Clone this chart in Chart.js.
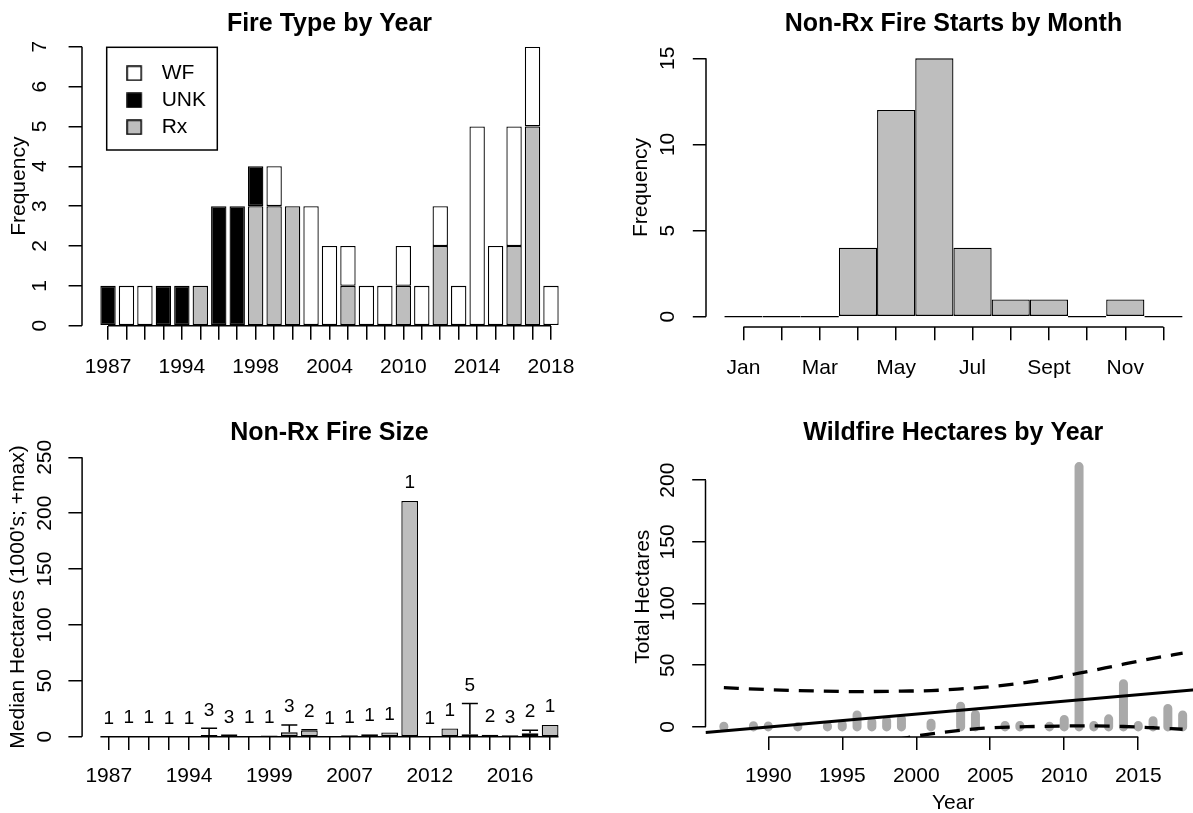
<!DOCTYPE html>
<html>
<head>
<meta charset="utf-8">
<script src="https://cdn.jsdelivr.net/npm/chart.js@4.4.1/dist/chart.umd.min.js"></script>
<style>
  html, body { margin: 0; padding: 0; background: #fff; }
  #page { position: relative; width: 1193px; height: 813px; overflow: hidden; }
  #page canvas { position: absolute; }
</style>
</head>
<body>
<div id="page">
  <canvas id="fireType" width="597" height="406" style="left:0;top:0"></canvas>
  <canvas id="fireMonth" width="610" height="406" style="left:600px;top:0"></canvas>
  <canvas id="fireSize" width="597" height="407" style="left:0;top:406px"></canvas>
  <canvas id="fireHa" width="610" height="420" style="left:600px;top:406px"></canvas>
</div>
<script>
// years with any fire (top left and bottom right panels)
var fireYears = [1987, 1989, 1990, 1992, 1994, 1995, 1996, 1997, 1998, 1999, 2001, 2003, 2004,
                 2006, 2007, 2009, 2010, 2011, 2012, 2013, 2014, 2015, 2016, 2017, 2018];
var rxCount  = [0, 0, 0, 0, 0, 1, 0, 0, 3, 3, 3, 0, 0, 1, 0, 0, 1, 0, 2, 0, 0, 0, 2, 5, 0];
var unkCount = [1, 0, 0, 1, 1, 0, 3, 3, 1, 0, 0, 0, 0, 0, 0, 0, 0, 0, 0, 0, 0, 0, 0, 0, 0];
var wfCount  = [0, 1, 1, 0, 0, 0, 0, 0, 0, 1, 0, 3, 2, 1, 1, 1, 1, 1, 1, 1, 5, 2, 3, 2, 1];

// non-Rx starts per month
var monthLabels = ['Jan', 'Feb', 'Mar', 'Apr', 'May', 'Jun', 'Jul', 'Aug', 'Sept', 'Oct', 'Nov', 'Dec'];
var monthStarts = [0, 0, 0, 4, 12, 15, 4, 1, 1, 0, 1, 0];

// non-Rx fire size (1000's ha): median, max and number of fires
var sizeYears  = [1987, 1989, 1990, 1992, 1994, 1996, 1997, 1998, 1999, 2003, 2004, 2006,
                  2007, 2009, 2010, 2011, 2012, 2013, 2014, 2015, 2016, 2017, 2018];
var sizeMedian = [0.3, 0.6, 0.6, 0.2, 0.2, 1.5, 0.6, 0.5, 1.0, 3.9, 5.5, 0.2,
                  1.2, 2.2, 3.8, 211, 0.3, 7.3, 2.1, 1.8, 1.2, 3.0, 10.5];
var sizeMax    = [null, null, null, null, null, 7.5, 1.2, null, null, 10.5, 6.3, null,
                  null, null, null, null, null, null, 29.8, null, null, 5.8, null];
var sizeCount  = [1, 1, 1, 1, 1, 3, 3, 1, 1, 3, 2, 1, 1, 1, 1, 1, 1, 1, 5, 2, 3, 2, 1];

// wildfire hectares per year, linear fit and its band
var haTotal = [0.5, 1, 0.7, 0.3, 0.8, 2, 9.6, 4, 5, 6.5, 3, 16.8, 10.1,
               1.2, 1.2, 0.6, 6, 211, 1.2, 6.5, 35, 1.2, 5, 15, 9.6];
var fitYears = [1985.76, 2019.24];
var fitHa    = [-4.5, 30.6];
var bandYears = [1987, 1990, 1993, 1996, 1999, 2001, 2003, 2005, 2008, 2011, 2014, 2016, 2018];
var bandUpper = [31.8, 30.2, 29.2, 28.6, 29.0, 29.4, 30.8, 32.6, 37.0, 43.5, 50.8, 55.5, 59.7];
var bandLower = [-38, -30, -23, -16, -9.5, -5.6, -2.8, -0.8, 0.3, 0.8, 0.3, -0.7, -1.9];

var INK = '#000';
var GRAY = '#bebebe';

Chart.defaults.font.family = '"Liberation Sans", Arial, Helvetica, sans-serif';
Chart.defaults.font.size = 21;
Chart.defaults.color = INK;

function setTicks(vals) {
  return function (s) { s.ticks = vals.map(function (v) { return {value: v}; }); };
}
function fixSize(n) {
  return function (s) {
    if (s.isHorizontal()) s.height = n; else s.width = n;
    s.paddingLeft = s.paddingRight = s.paddingTop = s.paddingBottom = 0;
  };
}
function xAxis(o) {
  return {
    type: 'linear', bounds: 'data', offset: false, min: o.min, max: o.max,
    border: {display: false},
    grid: {offset: false, drawOnChartArea: false, tickLength: o.tick, color: INK, lineWidth: 1.5},
    ticks: {autoSkip: false, maxRotation: 0, minRotation: 0, padding: o.pad, callback: o.label},
    afterBuildTicks: setTicks(o.ticks),
    afterFit: fixSize(o.size),
    title: o.title || {display: false}
  };
}
function yAxis(o) {
  return {
    type: 'linear', bounds: 'data', min: o.min, max: o.max,
    border: {display: false},
    grid: {drawOnChartArea: false, tickLength: o.tick, color: INK, lineWidth: 1.5},
    ticks: {minRotation: 90, maxRotation: 90, crossAlign: 'center', padding: o.pad,
            callback: function (v) { return String(v); }},
    afterBuildTicks: setTicks(o.ticks),
    afterFit: fixSize(o.size),
    title: {display: true, text: o.title, padding: {top: o.titlePad, bottom: 0}}
  };
}
function mainTitle(text, top, bottom) {
  return {display: true, text: text, fullSize: false, color: INK,
          font: {size: 25, weight: 'bold'}, padding: {top: top, bottom: bottom}};
}

// R style axis line: only from first to last tick
var rAxisLine = {
  id: 'rAxisLine',
  afterDraw: function (chart, args, opts) {
    var ctx = chart.ctx, a = chart.chartArea;
    ctx.save();
    ctx.strokeStyle = INK;
    ctx.lineWidth = 1.5;
    ['x', 'y'].forEach(function (id) {
      var s = chart.scales[id], t = s.ticks, pad = opts[id + 'Pad'] || 0;
      var p0 = s.getPixelForValue(t[0].value - pad);
      var p1 = s.getPixelForValue(t[t.length - 1].value + pad);
      ctx.beginPath();
      if (id === 'x') { ctx.moveTo(p0, a.bottom); ctx.lineTo(p1, a.bottom); }
      else { ctx.moveTo(a.left, p0); ctx.lineTo(a.left, p1); }
      ctx.stroke();
    });
    ctx.restore();
  }
};

// legend sits inside the plot with a box round it
var legendFrame = {
  id: 'legendFrame',
  afterLayout: function (chart) {
    var lg = chart.legend, a = chart.chartArea;
    lg.left = a.left + 38.2;
    lg.top = a.top + 10.1;
    lg.right = lg.left + lg.width;
    lg.bottom = lg.top + lg.height;
  },
  afterDraw: function (chart) {
    var lg = chart.legend, ctx = chart.ctx;
    ctx.save();
    ctx.strokeStyle = INK;
    ctx.lineWidth = 1.5;
    ctx.strokeRect(lg.left - 13.5, lg.top - 9.5, 110.6, 102.7);
    ctx.restore();
  }
};

function swatch(fill) {
  var c = document.createElement('canvas');
  c.width = 25; c.height = 16;
  var g = c.getContext('2d');
  g.fillStyle = fill; g.fillRect(1, 1, 14, 14);
  g.strokeStyle = INK; g.lineWidth = 1.5; g.strokeRect(1, 1, 14, 14);
  return c;
}

// whiskers to the max and the number of fires above each bar
var maxWhiskers = {
  id: 'maxWhiskers',
  afterDatasetsDraw: function (chart) {
    var ctx = chart.ctx, x = chart.scales.x, y = chart.scales.y;
    ctx.save();
    ctx.strokeStyle = INK;
    ctx.lineWidth = 1.5;
    sizeMax.forEach(function (m, i) {
      if (m === null) return;
      var px = x.getPixelForValue(i);
      var y0 = y.getPixelForValue(sizeMedian[i]), y1 = y.getPixelForValue(m);
      ctx.beginPath();
      ctx.moveTo(px, y0); ctx.lineTo(px, y1);
      ctx.moveTo(px - 8, y1); ctx.lineTo(px + 8, y1);
      ctx.stroke();
    });
    ctx.fillStyle = INK;
    ctx.font = '19px "Liberation Sans", Arial, sans-serif';
    ctx.textAlign = 'center';
    ctx.textBaseline = 'middle';
    sizeCount.forEach(function (n, i) {
      var top = Math.max(sizeMedian[i], sizeMax[i] === null ? 0 : sizeMax[i]);
      ctx.fillText(String(n), x.getPixelForValue(i), y.getPixelForValue(top) - 18);
    });
    ctx.restore();
  }
};

function asPoints(arr) { return arr.map(function (v, i) { return {x: i, y: v}; }); }
function everyNth(labels, n) { return function (v, i) { return i % n === 0 ? String(labels[i]) : ''; }; }
function indexTicks(arr) { return arr.map(function (_, i) { return i; }); }

// Fire type by year
new Chart(document.getElementById('fireType'), {
  type: 'bar',
  data: {
    datasets: [
      {label: 'Rx', data: asPoints(rxCount), backgroundColor: GRAY, stack: 'fires'},
      {label: 'UNK', data: asPoints(unkCount), backgroundColor: '#000', stack: 'fires'},
      {label: 'WF', data: asPoints(wfCount), backgroundColor: '#fff', stack: 'fires'}
    ]
  },
  options: {
    responsive: false, animation: false, devicePixelRatio: 1, events: [],
    layout: {padding: {left: 0, right: 20, top: 0, bottom: 20.3}},
    datasets: {bar: {borderColor: INK, borderWidth: 1.3, borderSkipped: false,
                     barPercentage: 1 / 1.2, categoryPercentage: 1}},
    scales: {
      x: xAxis({min: -1.41, max: 25.41, ticks: indexTicks(fireYears), label: everyNth(fireYears, 4),
                tick: 14, pad: 15.2, size: 60}),
      y: yAxis({min: 0, max: 7, ticks: [0, 1, 2, 3, 4, 5, 6, 7], tick: 13.4, pad: 22.8, size: 82,
                title: 'Frequency', titlePad: 6.6})
    },
    plugins: {
      title: mainTitle('Fire Type by Year', 8.7, 8.0),
      tooltip: {enabled: false},
      legend: {
        position: 'chartArea', align: 'start',
        labels: {
          usePointStyle: true, pointStyleWidth: 25, boxHeight: 15, padding: 6,
          font: {size: 21}, color: INK,
          generateLabels: function (chart) {
            return chart.data.datasets.map(function (d, i) {
              return {text: d.label, datasetIndex: i, pointStyle: swatch(d.backgroundColor),
                      lineWidth: 0, fontColor: INK, hidden: false};
            }).reverse();
          }
        }
      },
      rAxisLine: {}
    }
  },
  plugins: [rAxisLine, legendFrame]
});

// Non-Rx fire starts by month
new Chart(document.getElementById('fireMonth'), {
  type: 'bar',
  data: {
    datasets: [{
      data: monthStarts.map(function (v, i) { return {x: i + 1, y: v}; }),
      backgroundColor: GRAY, borderColor: INK, borderWidth: 1.3, borderSkipped: false,
      barPercentage: 1, categoryPercentage: 1, minBarLength: 1.5, inflateAmount: 0
    }]
  },
  options: {
    responsive: false, animation: false, devicePixelRatio: 1, events: [],
    layout: {padding: {left: 0, right: 9.1, top: 0, bottom: 19}},
    scales: {
      x: xAxis({min: 0.02, max: 12.98, ticks: monthLabels.map(function (_, i) { return i + 1; }),
                label: everyNth(monthLabels, 2), tick: 13.3, pad: 15.4, size: 60}),
      y: yAxis({min: -0.6, max: 15.6, ticks: [0, 5, 10, 15], tick: 13.2, pad: 13.0, size: 106,
                title: 'Frequency', titlePad: 29})
    },
    plugins: {
      title: mainTitle('Non-Rx Fire Starts by Month', 8.7, 9.3),
      legend: {display: false}, tooltip: {enabled: false},
      rAxisLine: {}
    }
  },
  plugins: [rAxisLine]
});

// Non-Rx fire size
new Chart(document.getElementById('fireSize'), {
  type: 'bar',
  data: {
    datasets: [{
      data: asPoints(sizeMedian), backgroundColor: GRAY, borderColor: INK, borderWidth: 1.3,
      borderSkipped: false, barPercentage: 1 / 1.2, categoryPercentage: 1
    }]
  },
  options: {
    responsive: false, animation: false, devicePixelRatio: 1, events: [],
    layout: {padding: {left: 0, right: 20.2, top: 0, bottom: 16.3}},
    scales: {
      x: xAxis({min: -1.33, max: 23.33, ticks: indexTicks(sizeYears), label: everyNth(sizeYears, 4),
                tick: 13.3, pad: 13.2, size: 60}),
      y: yAxis({min: 0, max: 250, ticks: [0, 50, 100, 150, 200, 250], tick: 13.7, pad: 5.7, size: 82.1,
                title: "Median Hectares (1000's; +max)", titlePad: 5.9})
    },
    plugins: {
      title: mainTitle('Non-Rx Fire Size', 12.5, 8.8),
      legend: {display: false}, tooltip: {enabled: false},
      rAxisLine: {xPad: 0.5 / 1.2}
    }
  },
  plugins: [rAxisLine, maxWhiskers]
});

// Wildfire hectares by year
var haSegments = [];
fireYears.forEach(function (yr, i) {
  haSegments.push({x: yr, y: 0}, {x: yr, y: haTotal[i]}, {x: yr, y: null});
});
function xy(xs, ys) { return xs.map(function (v, i) { return {x: v, y: ys[i]}; }); }

new Chart(document.getElementById('fireHa'), {
  type: 'line',
  data: {
    datasets: [
      {data: haSegments, borderColor: '#a9a9a9', borderWidth: 9, borderCapStyle: 'round',
       borderJoinStyle: 'round', spanGaps: false, order: 2},
      {data: xy(fitYears, fitHa), borderColor: INK, borderWidth: 3, order: 1},
      {data: xy(bandYears, bandUpper), borderColor: INK, borderWidth: 3.3, borderDash: [15, 10],
       cubicInterpolationMode: 'monotone', order: 1},
      {data: xy(bandYears, bandLower), borderColor: INK, borderWidth: 3.3, borderDash: [15, 10],
       cubicInterpolationMode: 'monotone', order: 1}
    ]
  },
  options: {
    responsive: false, animation: false, devicePixelRatio: 1, events: [],
    elements: {point: {radius: 0}},
    layout: {padding: {left: 0, right: 9, top: 0, bottom: 0}},
    scales: {
      x: xAxis({min: 1985.76, max: 2019.24, ticks: [1990, 1995, 2000, 2005, 2010, 2015],
                label: function (v) { return String(v); }, tick: 13, pad: 14.1, size: 89,
                title: {display: true, text: 'Year', padding: {top: 0, bottom: 10.1}}}),
      y: yAxis({min: -8.2, max: 219.2, ticks: [0, 50, 100, 150, 200], tick: 13.3, pad: 6.7, size: 105.5,
                title: 'Total Hectares', titlePad: 30.9})
    },
    plugins: {
      title: mainTitle('Wildfire Hectares by Year', 12.5, 8.0),
      legend: {display: false}, tooltip: {enabled: false},
      rAxisLine: {}
    }
  },
  plugins: [rAxisLine]
});
</script>
</body>
</html>
